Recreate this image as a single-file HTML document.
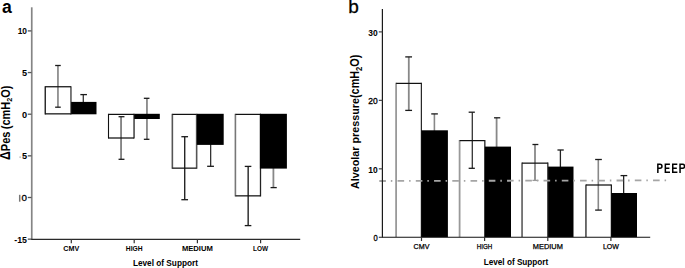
<!DOCTYPE html>
<html><head><meta charset="utf-8"><style>
html,body{margin:0;padding:0;background:#fff;width:685px;height:268px;overflow:hidden}
svg{display:block}
text{font-family:"Liberation Sans", sans-serif;fill:#000}
</style></head><body>
<svg width="685" height="268" viewBox="0 0 685 268">
<rect x="45.25" y="86.75" width="25.7" height="27.1" fill="#fff"/>
<rect x="108.5" y="114.4" width="25.55" height="23.6" fill="#fff"/>
<rect x="172.35" y="114.4" width="24.3" height="53.75" fill="#fff"/>
<rect x="235.4" y="114.4" width="25.1" height="81.45" fill="#fff"/>
<line x1="57.95" y1="65.5" x2="57.95" y2="107.2" stroke="#888" stroke-width="1.7"/>
<line x1="55.15" y1="65.5" x2="60.75" y2="65.5" stroke="#1a1a1a" stroke-width="1.3"/>
<line x1="55.15" y1="107.2" x2="60.75" y2="107.2" stroke="#1a1a1a" stroke-width="1.3"/>
<line x1="83.25" y1="94.6" x2="83.25" y2="110" stroke="#111" stroke-width="1.1"/>
<line x1="80.35" y1="94.6" x2="86.95" y2="94.6" stroke="#1a1a1a" stroke-width="1.3"/>
<line x1="121.05" y1="116.7" x2="121.05" y2="159.3" stroke="#777" stroke-width="1.7"/>
<line x1="118.55" y1="116.7" x2="124.45" y2="116.7" stroke="#1a1a1a" stroke-width="1.3"/>
<line x1="118.55" y1="159.3" x2="124.45" y2="159.3" stroke="#1a1a1a" stroke-width="1.3"/>
<line x1="146.95" y1="98.3" x2="146.95" y2="139.3" stroke="#888" stroke-width="1.8"/>
<line x1="143.85" y1="98.3" x2="149.45" y2="98.3" stroke="#1a1a1a" stroke-width="1.3"/>
<line x1="143.85" y1="139.3" x2="149.45" y2="139.3" stroke="#1a1a1a" stroke-width="1.3"/>
<line x1="184.75" y1="136.7" x2="184.75" y2="199.7" stroke="#000" stroke-width="1.2"/>
<line x1="181.35" y1="136.7" x2="188.05" y2="136.7" stroke="#1a1a1a" stroke-width="1.3"/>
<line x1="181.35" y1="199.7" x2="188.05" y2="199.7" stroke="#1a1a1a" stroke-width="1.3"/>
<line x1="210.65" y1="120" x2="210.65" y2="166.3" stroke="#333" stroke-width="1.3"/>
<line x1="207.15" y1="166.3" x2="213.95" y2="166.3" stroke="#1a1a1a" stroke-width="1.3"/>
<line x1="248.15" y1="166.4" x2="248.15" y2="225.6" stroke="#111" stroke-width="1.3"/>
<line x1="244.75" y1="166.4" x2="251.35" y2="166.4" stroke="#1a1a1a" stroke-width="1.3"/>
<line x1="244.75" y1="225.6" x2="251.35" y2="225.6" stroke="#1a1a1a" stroke-width="1.3"/>
<line x1="273.4" y1="120" x2="273.4" y2="187.6" stroke="#888" stroke-width="1.8"/>
<line x1="270.55" y1="187.6" x2="276.75" y2="187.6" stroke="#1a1a1a" stroke-width="1.3"/>
<line x1="45.25" y1="86.15" x2="45.25" y2="114.44999999999999" stroke="#222" stroke-width="1.4"/>
<line x1="70.95" y1="86.15" x2="70.95" y2="114.44999999999999" stroke="#444" stroke-width="1.4"/>
<line x1="45.25" y1="86.75" x2="70.95" y2="86.75" stroke="#111" stroke-width="1.25"/>
<line x1="45.25" y1="113.85" x2="70.95" y2="113.85" stroke="#111" stroke-width="1.25"/>
<line x1="108.5" y1="113.80000000000001" x2="108.5" y2="138.6" stroke="#111" stroke-width="1.1"/>
<line x1="134.05" y1="113.80000000000001" x2="134.05" y2="138.6" stroke="#222" stroke-width="1.3"/>
<line x1="108.5" y1="114.4" x2="134.05" y2="114.4" stroke="#111" stroke-width="1.25"/>
<line x1="108.5" y1="138.0" x2="134.05" y2="138.0" stroke="#111" stroke-width="1.25"/>
<line x1="172.35" y1="113.80000000000001" x2="172.35" y2="168.75" stroke="#555" stroke-width="1.6"/>
<line x1="196.65" y1="113.80000000000001" x2="196.65" y2="168.75" stroke="#555" stroke-width="1.6"/>
<line x1="172.35" y1="114.4" x2="196.65" y2="114.4" stroke="#111" stroke-width="1.25"/>
<line x1="172.35" y1="168.15" x2="196.65" y2="168.15" stroke="#111" stroke-width="1.25"/>
<line x1="235.4" y1="113.80000000000001" x2="235.4" y2="196.45" stroke="#777" stroke-width="1.6"/>
<line x1="260.5" y1="113.80000000000001" x2="260.5" y2="196.45" stroke="#222" stroke-width="1.3"/>
<line x1="235.4" y1="114.4" x2="260.5" y2="114.4" stroke="#111" stroke-width="1.25"/>
<line x1="235.4" y1="195.85" x2="260.5" y2="195.85" stroke="#111" stroke-width="1.25"/>
<rect x="71.1" y="101.9" width="25.4" height="12.4" fill="#000"/>
<rect x="134.2" y="113.8" width="25.6" height="5.2" fill="#000"/>
<rect x="196.8" y="113.8" width="26.9" height="31.1" fill="#000"/>
<rect x="259.9" y="113.8" width="27.0" height="54.8" fill="#000"/>
<line x1="31.75" y1="7.3" x2="31.75" y2="239.3" stroke="#858585" stroke-width="1.7"/>
<line x1="31" y1="239.35" x2="300.2" y2="239.35" stroke="#2a2a2a" stroke-width="1.35"/>
<line x1="27.8" y1="30.9" x2="31.5" y2="30.9" stroke="#555" stroke-width="1.3"/>
<text x="27.0" y="34.30" font-size="9.8" font-weight="bold" text-anchor="end" textLength="9.3" lengthAdjust="spacingAndGlyphs">10</text>
<line x1="27.8" y1="72.55" x2="31.5" y2="72.55" stroke="#555" stroke-width="1.3"/>
<text x="27.0" y="75.95" font-size="9.8" font-weight="bold" text-anchor="end" textLength="5.1" lengthAdjust="spacingAndGlyphs">5</text>
<line x1="27.8" y1="114.2" x2="31.5" y2="114.2" stroke="#555" stroke-width="1.3"/>
<text x="27.0" y="117.60" font-size="9.8" font-weight="bold" text-anchor="end" textLength="5.1" lengthAdjust="spacingAndGlyphs">0</text>
<line x1="27.8" y1="155.85" x2="31.5" y2="155.85" stroke="#555" stroke-width="1.3"/>
<line x1="19.4" y1="157.15" x2="20.8" y2="157.15" stroke="#aaa" stroke-width="1.2"/>
<text x="27.0" y="159.25" font-size="9.8" font-weight="bold" text-anchor="end" textLength="5.1" lengthAdjust="spacingAndGlyphs">5</text>
<line x1="27.8" y1="197.5" x2="31.5" y2="197.5" stroke="#555" stroke-width="1.3"/>
<line x1="19.7" y1="194.8" x2="19.7" y2="201.7" stroke="#777" stroke-width="1.5"/>
<text x="26.9" y="201.20" font-size="9.8" font-weight="normal" text-anchor="end" stroke="#000" stroke-width="0.3">0</text>
<line x1="27.8" y1="239.15" x2="31.5" y2="239.15" stroke="#555" stroke-width="1.3"/>
<text x="27.0" y="242.55" font-size="9.8" font-weight="bold" text-anchor="end" textLength="12.7" lengthAdjust="spacingAndGlyphs">-15</text>
<line x1="71.3" y1="239" x2="71.3" y2="243.3" stroke="#333" stroke-width="1.2"/>
<text x="63.3" y="251.1" font-size="7" font-weight="bold" textLength="16" lengthAdjust="spacingAndGlyphs">CMV</text>
<line x1="134.2" y1="239" x2="134.2" y2="243.3" stroke="#333" stroke-width="1.2"/>
<text x="125.79999999999998" y="251.1" font-size="7" font-weight="bold" textLength="16.8" lengthAdjust="spacingAndGlyphs">HIGH</text>
<line x1="197.4" y1="239" x2="197.4" y2="243.3" stroke="#333" stroke-width="1.2"/>
<text x="181.9" y="251.1" font-size="7" font-weight="bold" textLength="31" lengthAdjust="spacingAndGlyphs">MEDIUM</text>
<line x1="260.6" y1="239" x2="260.6" y2="243.3" stroke="#333" stroke-width="1.2"/>
<text x="253.10000000000002" y="251.1" font-size="7" font-weight="bold" textLength="15" lengthAdjust="spacingAndGlyphs">LOW</text>
<text x="132.9" y="266.4" font-size="8.5" font-weight="bold" textLength="65.1" lengthAdjust="spacingAndGlyphs">Level of Support</text>
<text transform="translate(9.8,160.0) rotate(-90)" font-size="12.3" font-weight="bold" textLength="74.5" lengthAdjust="spacingAndGlyphs"><tspan font-size="13.8">&#916;</tspan>Pes<tspan dx="2.6">(cmH</tspan><tspan font-size="8" dy="2.2">2</tspan><tspan dy="-2.2">O)</tspan></text>
<text x="2.0" y="12.6" font-size="17.6" font-weight="bold">a</text>
<rect x="396.1" y="83.4" width="25.25" height="153.7" fill="#fff"/>
<rect x="459.6" y="140.6" width="25.25" height="96.5" fill="#fff"/>
<rect x="522.05" y="163.15" width="25.8" height="73.95" fill="#fff"/>
<rect x="585.95" y="185.0" width="25.4" height="52.1" fill="#fff"/>
<line x1="408.8" y1="56.9" x2="408.8" y2="110.4" stroke="#888" stroke-width="1.8"/>
<line x1="405.25" y1="56.9" x2="412.05" y2="56.9" stroke="#1a1a1a" stroke-width="1.3"/>
<line x1="405.25" y1="110.4" x2="412.05" y2="110.4" stroke="#1a1a1a" stroke-width="1.3"/>
<line x1="434.4" y1="113.9" x2="434.4" y2="131" stroke="#888" stroke-width="1.6"/>
<line x1="431.25" y1="113.9" x2="437.85" y2="113.9" stroke="#1a1a1a" stroke-width="1.3"/>
<line x1="472.3" y1="112.2" x2="472.3" y2="168.3" stroke="#333" stroke-width="1.3"/>
<line x1="468.65" y1="112.2" x2="474.85" y2="112.2" stroke="#1a1a1a" stroke-width="1.3"/>
<line x1="468.65" y1="168.3" x2="474.85" y2="168.3" stroke="#1a1a1a" stroke-width="1.3"/>
<line x1="496.6" y1="117.8" x2="496.6" y2="147" stroke="#888" stroke-width="1.8"/>
<line x1="494.05" y1="117.8" x2="500.25" y2="117.8" stroke="#1a1a1a" stroke-width="1.3"/>
<line x1="535.0" y1="144.5" x2="535.0" y2="180.4" stroke="#888" stroke-width="1.8"/>
<line x1="532.45" y1="144.5" x2="538.35" y2="144.5" stroke="#1a1a1a" stroke-width="1.3"/>
<line x1="532.45" y1="180.4" x2="538.35" y2="180.4" stroke="#999" stroke-width="1.3"/>
<line x1="560.4" y1="150.0" x2="560.4" y2="167" stroke="#222" stroke-width="1.3"/>
<line x1="557.45" y1="150.0" x2="563.75" y2="150.0" stroke="#1a1a1a" stroke-width="1.3"/>
<line x1="598.3" y1="159.5" x2="598.3" y2="210.1" stroke="#888" stroke-width="1.6"/>
<line x1="595.15" y1="159.5" x2="601.85" y2="159.5" stroke="#1a1a1a" stroke-width="1.3"/>
<line x1="595.15" y1="210.1" x2="601.85" y2="210.1" stroke="#1a1a1a" stroke-width="1.3"/>
<line x1="623.65" y1="175.6" x2="623.65" y2="193.5" stroke="#222" stroke-width="1.3"/>
<line x1="620.55" y1="175.6" x2="627.25" y2="175.6" stroke="#1a1a1a" stroke-width="1.3"/>
<line x1="396.1" y1="82.80000000000001" x2="396.1" y2="237.1" stroke="#999" stroke-width="1.8"/>
<line x1="421.35" y1="82.80000000000001" x2="421.35" y2="237.1" stroke="#111" stroke-width="1.1"/>
<line x1="396.1" y1="83.4" x2="421.35" y2="83.4" stroke="#111" stroke-width="1.25"/>
<line x1="459.6" y1="140.0" x2="459.6" y2="237.1" stroke="#999" stroke-width="1.8"/>
<line x1="484.85" y1="140.0" x2="484.85" y2="237.1" stroke="#111" stroke-width="1.2"/>
<line x1="459.6" y1="140.6" x2="484.85" y2="140.6" stroke="#111" stroke-width="1.25"/>
<line x1="522.05" y1="162.55" x2="522.05" y2="237.1" stroke="#444" stroke-width="1.4"/>
<line x1="547.85" y1="162.55" x2="547.85" y2="237.1" stroke="#111" stroke-width="1.2"/>
<line x1="522.05" y1="163.15" x2="547.85" y2="163.15" stroke="#111" stroke-width="1.25"/>
<line x1="585.95" y1="184.4" x2="585.95" y2="237.1" stroke="#222" stroke-width="1.3"/>
<line x1="611.35" y1="184.4" x2="611.35" y2="237.1" stroke="#111" stroke-width="1.2"/>
<line x1="585.95" y1="185.0" x2="611.35" y2="185.0" stroke="#111" stroke-width="1.25"/>
<rect x="421.3" y="130.3" width="26.6" height="106.8" fill="#000"/>
<rect x="484.8" y="146.6" width="26.2" height="90.5" fill="#000"/>
<rect x="548.1" y="166.6" width="25.4" height="70.5" fill="#000"/>
<rect x="611.3" y="193.0" width="25.7" height="44.1" fill="#000"/>
<line x1="379.3" y1="181.0" x2="666.2" y2="180.4" stroke="#a5a5a5" stroke-width="1.8" stroke-dasharray="6.6 4.95 1.5 5.2"/>
<line x1="382.4" y1="9" x2="382.4" y2="237.6" stroke="#1a1a1a" stroke-width="1.2"/>
<line x1="382" y1="237.3" x2="650.2" y2="237.3" stroke="#111" stroke-width="1.1"/>
<line x1="378.8" y1="31.89" x2="382.4" y2="31.89" stroke="#444" stroke-width="1.2"/>
<text x="377.6" y="35.79" font-size="9.7" font-weight="bold" text-anchor="end" textLength="9.4" lengthAdjust="spacingAndGlyphs">30</text>
<line x1="378.8" y1="100.36" x2="382.4" y2="100.36" stroke="#444" stroke-width="1.2"/>
<text x="377.6" y="104.26" font-size="9.7" font-weight="normal" stroke="#000" stroke-width="0.35" text-anchor="end" textLength="9.4" lengthAdjust="spacingAndGlyphs">20</text>
<line x1="378.8" y1="168.83" x2="382.4" y2="168.83" stroke="#444" stroke-width="1.2"/>
<text x="377.6" y="172.73" font-size="9.7" font-weight="bold" text-anchor="end" textLength="9.4" lengthAdjust="spacingAndGlyphs">10</text>
<line x1="378.8" y1="237.3" x2="382.4" y2="237.3" stroke="#444" stroke-width="1.2"/>
<text x="377.6" y="241.20" font-size="9.7" font-weight="normal" stroke="#000" stroke-width="0.35" text-anchor="end" textLength="4.2" lengthAdjust="spacingAndGlyphs">0</text>
<line x1="421.5" y1="237" x2="421.5" y2="241" stroke="#333" stroke-width="1.2"/>
<text x="413.6" y="249" font-size="7" stroke="#000" stroke-width="0.25" textLength="15.8" lengthAdjust="spacingAndGlyphs">CMV</text>
<line x1="484.6" y1="237" x2="484.6" y2="241" stroke="#333" stroke-width="1.2"/>
<text x="476.85" y="249" font-size="7" stroke="#000" stroke-width="0.25" textLength="15.5" lengthAdjust="spacingAndGlyphs">HIGH</text>
<line x1="547.8" y1="237" x2="547.8" y2="241" stroke="#333" stroke-width="1.2"/>
<text x="532.8" y="249" font-size="7" stroke="#000" stroke-width="0.25" textLength="30" lengthAdjust="spacingAndGlyphs">MEDIUM</text>
<line x1="610.9" y1="237" x2="610.9" y2="241" stroke="#333" stroke-width="1.2"/>
<text x="602.9" y="249" font-size="7" stroke="#000" stroke-width="0.25" textLength="16" lengthAdjust="spacingAndGlyphs">LOW</text>
<text x="483.7" y="264.5" font-size="8.5" font-weight="bold" textLength="64.6" lengthAdjust="spacingAndGlyphs">Level of Support</text>
<text transform="translate(358.9,189.1) rotate(-90)" font-size="11" font-weight="bold" textLength="91" lengthAdjust="spacingAndGlyphs">Alveolar pressure</text>
<text transform="translate(359.3,98.0) rotate(-90)" font-size="12.3" font-weight="bold" textLength="43.4" lengthAdjust="spacingAndGlyphs">(cmH<tspan font-size="8.6" dy="2.2">2</tspan><tspan dy="-2.2">O)</tspan></text>
<path d="M657.85,172.9 V164.25 H659.95 A2.0,2.0 0 0 1 659.95,168.25 H657.85" fill="none" stroke="#000" stroke-width="1.5"/>
<path d="M669.9,164.25 H665.35 V172.15 H670.0 M665.35,168.3 H669.4" fill="none" stroke="#000" stroke-width="1.5"/>
<path d="M677.3,164.25 H672.75 V172.15 H677.4 M672.75,168.3 H676.8" fill="none" stroke="#000" stroke-width="1.5"/>
<path d="M680.05,172.9 V164.25 H682.55 A2.0,2.0 0 0 1 682.55,168.25 H680.05" fill="none" stroke="#000" stroke-width="1.5"/>
<text x="348.2" y="12.6" font-size="19" stroke="#000" stroke-width="0.3">b</text>
</svg>
</body></html>
